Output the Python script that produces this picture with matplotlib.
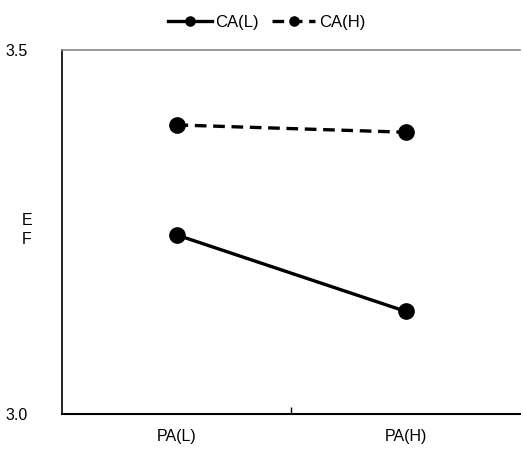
import matplotlib.pyplot as plt

categories = ["PA(L)", "PA(H)"]
ca_low = [3.246, 3.141]
ca_high = [3.397, 3.387]
y_ticks = [3.0, 3.5]

plt.rcParams['font.family'] = ['Liberation Sans', 'DejaVu Sans']

fig = plt.figure(figsize=(5.23, 4.5), dpi=100)
ax = fig.add_axes([0.1185, 0.08, 0.876, 0.809])

xs = list(range(len(categories)))
ax.plot(xs, ca_low, color="black", linewidth=2.4, marker="o", markersize=11,
        label="CA(L)")
ax.plot(xs, ca_high, color="black", linewidth=2.4, linestyle=(0, (3.5, 2)),
        marker="o", markersize=11, label="CA(H)")

ax.set_xlim(-0.5, 1.5)
ax.set_ylim(3.0, 3.5)
ax.set_yticks(y_ticks)
ax.set_yticklabels([f"{v:.1f}" for v in y_ticks], fontsize=11.5)
ax.tick_params(axis="y", length=0, pad=25)

# category labels without ticks, tick mark between categories
ax.set_xticks(xs)
ax.set_xticklabels(categories, fontsize=11.5)
ax.set_xticks([0.5], minor=True)
ax.tick_params(axis="x", which="major", length=0, pad=11)
ax.tick_params(axis="x", which="minor", length=5, direction="in", width=1)

ax.spines["right"].set_visible(False)
ax.spines["top"].set_color("#888888")
ax.spines["top"].set_linewidth(1.2)
ax.spines["left"].set_linewidth(1.2)
ax.spines["bottom"].set_linewidth(1.5)

fig.text(27 / 523, 1 - 230 / 450, "E\nF", fontsize=11.5, ha="center",
         va="center", linespacing=1.35)

fig.legend(loc="upper center", bbox_to_anchor=(0.51, 1.0), ncol=2,
           frameon=False, fontsize=12, handlelength=2.6, columnspacing=0.8,
           handletextpad=0.2, markerscale=0.6)

fig.savefig("out.png", dpi=100)
